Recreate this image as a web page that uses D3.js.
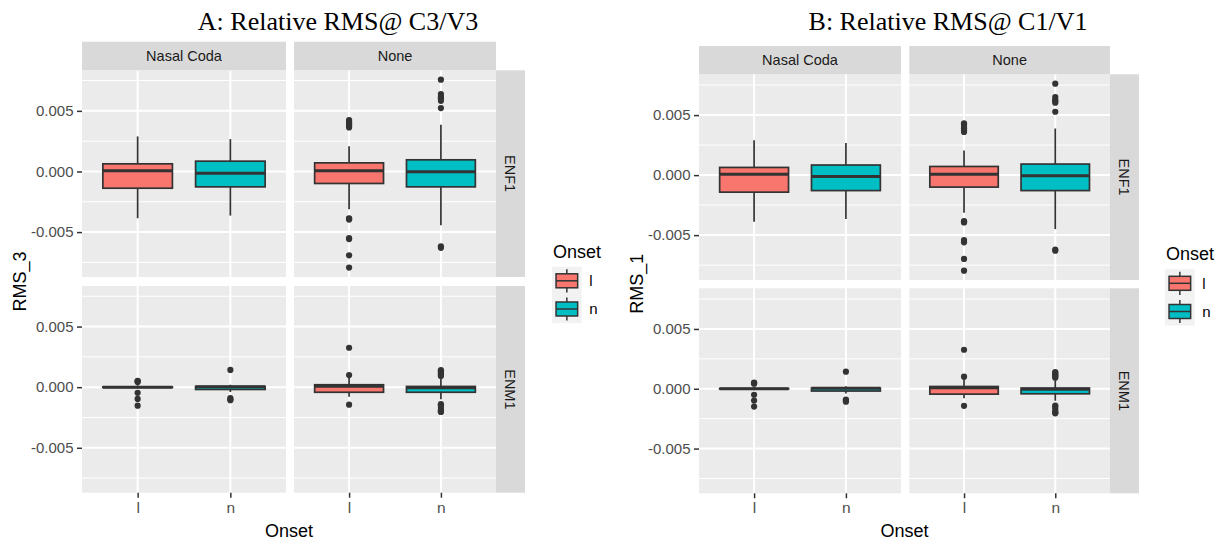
<!DOCTYPE html>
<html>
<head>
<meta charset="utf-8">
<script src="https://cdn.jsdelivr.net/npm/d3@7"></script>
<style>
  body { margin: 0; background: #ffffff; }
  svg { display: block; }
  text { font-family: "Liberation Sans", Arial, sans-serif; }
</style>
</head>
<body>
<svg id="chart" width="1219" height="540"></svg>
<script>
// Facet levels
const onsets = ["l", "n"];
const codas = ["Nasal Coda", "None"];
const speakers = ["ENF1", "ENM1"];

// Box-plot summaries, one entry per group, ordered speaker -> coda -> onset:
// ENF1/Nasal Coda/l, ENF1/Nasal Coda/n, ENF1/None/l, ENF1/None/n,
// ENM1/Nasal Coda/l, ENM1/Nasal Coda/n, ENM1/None/l, ENM1/None/n

// Relative RMS at C3/V3
const rms3Lower  = [-0.00386, -0.00364, -0.00312, -0.00444, -0.00012, -0.00040, -0.00080, -0.00100];
const rms3Q1     = [-0.00138, -0.00127, -0.00099, -0.00127, -0.00002, -0.00019, -0.00042, -0.00042];
const rms3Median = [ 0.00005, -0.00014,  0.00005, -0.00003,  0.00000,  0.00004,  0.00008, -0.00004];
const rms3Q3     = [ 0.00063,  0.00085,  0.00071,  0.00096,  0.00002,  0.00006,  0.00020,  0.00006];
const rms3Upper  = [ 0.00289,  0.00267,  0.00207,  0.00385,  0.00015,  0.00020,  0.00085,  0.00070];
const rms3Outliers = [
  [],
  [],
  [0.00424, 0.0041, 0.0040, 0.0039, 0.0038, 0.00363, -0.00386, -0.0039, -0.00397, -0.0055, -0.00558, -0.00692, -0.00793],
  [0.00757, 0.00639, 0.00615, 0.00603, 0.00583, 0.00523, -0.00617, -0.0063],
  [0.00052, 0.00047, 0.00042, -0.00047, -0.00097, -0.00153],
  [0.00142, -0.0009, -0.001, -0.00108],
  [0.00325, 0.0010, -0.00144],
  [0.0014, 0.0013, 0.0012, 0.0011, 0.0010, 0.00093, -0.0014, -0.0015, -0.0017, -0.0019, -0.0020, -0.00205]
];

// Relative RMS at C1/V1
const rms1Lower  = [-0.00389, -0.00366, -0.00313, -0.00450, -0.00012, -0.00040, -0.00080, -0.00100];
const rms1Q1     = [-0.00142, -0.00129, -0.00100, -0.00129, -0.00002, -0.00019, -0.00045, -0.00042];
const rms1Median = [ 0.00008, -0.00012,  0.00008, -0.00006,  0.00000,  0.00004,  0.00008, -0.00004];
const rms1Q3     = [ 0.00064,  0.00084,  0.00072,  0.00092,  0.00002,  0.00006,  0.00019,  0.00006];
const rms1Upper  = [ 0.00290,  0.00268,  0.00206,  0.00388,  0.00015,  0.00020,  0.00085,  0.00070];
const rms1Outliers = [
  [],
  [],
  [0.00432, 0.0042, 0.0040, 0.0039, 0.0037, 0.0036, -0.00384, -0.0039, -0.00395, -0.00541, -0.0056, -0.00698, -0.00796],
  [0.00762, 0.0065, 0.00628, 0.00616, 0.00603, 0.00528, -0.0062, -0.0063],
  [0.00052, 0.00047, 0.00042, -0.0005, -0.00099, -0.00149],
  [0.00143, -0.0009, -0.001, -0.00108],
  [0.00326, 0.00101, -0.00143],
  [0.0014, 0.0013, 0.0012, 0.0011, 0.0010, 0.00093, -0.0014, -0.0015, -0.0017, -0.0019, -0.0020, -0.00205]
];

const majorTicks = [-0.005, 0, 0.005];
const minorTicks = [-0.0075, -0.0025, 0.0025, 0.0075];

const fillColor = d3.scaleOrdinal().domain(onsets).range(["#F8766D", "#00BFC4"]);
const ink = "#333333";

const svg = d3.select("#chart");

function drawChart(L, D) {
  const g = svg.append("g");

  // shared y domain with 5% expansion, as the facets use fixed scales
  const all = [].concat(D.lower, D.upper, ...D.outliers);
  const [mn, mx] = d3.extent(all);
  const pad = (mx - mn) * 0.05;
  const yDomain = [mn - pad, mx + pad];

  // title
  g.append("text")
    .attr("x", L.titleX).attr("y", 30)
    .attr("text-anchor", "middle")
    .style("font-family", "'Liberation Serif', 'Times New Roman', serif")
    .style("font-size", "26px")
    .attr("fill", "#000")
    .text(L.title);

  speakers.forEach((sp, r) => {
    const [rowTop, rowBot] = L.rows[r];
    const y = d3.scaleLinear().domain(yDomain).range([rowBot, rowTop]);

    codas.forEach((cd, c) => {
      const [colL, colR] = L.cols[c];
      const x = d3.scalePoint().domain(onsets).range([colL, colR]).padding(0.6);
      const boxW = x.step() * 0.75;
      const p = g.append("g");

      p.append("rect")
        .attr("x", colL).attr("y", rowTop)
        .attr("width", colR - colL).attr("height", rowBot - rowTop)
        .attr("fill", "#EBEBEB");

      p.selectAll(".minor").data(minorTicks.filter(v => v > yDomain[0] && v < yDomain[1]))
        .join("line")
        .attr("x1", colL).attr("x2", colR)
        .attr("y1", d => y(d)).attr("y2", d => y(d))
        .attr("stroke", "#fff").attr("stroke-width", 1);

      p.selectAll(".major").data(majorTicks)
        .join("line")
        .attr("x1", colL).attr("x2", colR)
        .attr("y1", d => y(d)).attr("y2", d => y(d))
        .attr("stroke", "#fff").attr("stroke-width", 2);

      p.selectAll(".vmajor").data(onsets)
        .join("line")
        .attr("x1", d => x(d)).attr("x2", d => x(d))
        .attr("y1", rowTop).attr("y2", rowBot)
        .attr("stroke", "#fff").attr("stroke-width", 2);

      onsets.forEach((on, o) => {
        const i = r * 4 + c * 2 + o;
        const cx = x(on);
        const b = p.append("g");
        // whiskers
        b.append("line")
          .attr("x1", cx).attr("x2", cx)
          .attr("y1", y(D.upper[i])).attr("y2", y(D.q3[i]))
          .attr("stroke", ink).attr("stroke-width", 1.7);
        b.append("line")
          .attr("x1", cx).attr("x2", cx)
          .attr("y1", y(D.q1[i])).attr("y2", y(D.lower[i]))
          .attr("stroke", ink).attr("stroke-width", 1.7);
        // box
        b.append("rect")
          .attr("x", cx - boxW / 2).attr("width", boxW)
          .attr("y", y(D.q3[i])).attr("height", Math.max(0.01, y(D.q1[i]) - y(D.q3[i])))
          .attr("fill", fillColor(on))
          .attr("stroke", ink).attr("stroke-width", 1.7);
        // median
        b.append("line")
          .attr("x1", cx - boxW / 2).attr("x2", cx + boxW / 2)
          .attr("y1", y(D.median[i])).attr("y2", y(D.median[i]))
          .attr("stroke", ink).attr("stroke-width", 3);
        // outliers
        b.selectAll("circle").data(D.outliers[i])
          .join("circle")
          .attr("cx", cx).attr("cy", d => y(d))
          .attr("r", 3.1)
          .attr("fill", ink);
      });

      // top strips
      if (r === 0) {
        g.append("rect")
          .attr("x", colL).attr("y", L.stripTop[0])
          .attr("width", colR - colL).attr("height", L.stripTop[1] - L.stripTop[0])
          .attr("fill", "#D9D9D9");
        g.append("text")
          .attr("x", (colL + colR) / 2).attr("y", (L.stripTop[0] + L.stripTop[1]) / 2)
          .attr("dy", "0.35em")
          .attr("text-anchor", "middle")
          .style("font-size", "14.5px")
          .attr("fill", "#1A1A1A")
          .text(cd);
      }

      // left axis
      if (c === 0) {
        const ax = g.append("g")
          .attr("transform", `translate(${colL},0)`)
          .call(d3.axisLeft(y).tickValues(majorTicks).tickFormat(d => d.toFixed(3)).tickSize(5).tickPadding(3.5));
        ax.select(".domain").remove();
        ax.selectAll("line").attr("stroke", ink).attr("stroke-width", 1.5);
        ax.selectAll("text").attr("fill", "#4D4D4D").style("font-size", "15px");
      }

      // bottom axis
      if (r === speakers.length - 1) {
        const ax = g.append("g")
          .attr("transform", `translate(0,${rowBot})`)
          .call(d3.axisBottom(x).tickSize(5).tickPadding(4));
        ax.select(".domain").remove();
        ax.selectAll("line").attr("stroke", ink).attr("stroke-width", 1.5);
        ax.selectAll("text").attr("fill", "#4D4D4D").style("font-size", "15.5px");
      }
    });

    // right strips
    g.append("rect")
      .attr("x", L.stripRight[0]).attr("y", rowTop)
      .attr("width", L.stripRight[1] - L.stripRight[0]).attr("height", rowBot - rowTop)
      .attr("fill", "#D9D9D9");
    const sx = (L.stripRight[0] + L.stripRight[1]) / 2;
    const sy = (rowTop + rowBot) / 2;
    g.append("text")
      .attr("transform", `translate(${sx},${sy}) rotate(90)`)
      .attr("dy", "0.35em")
      .attr("text-anchor", "middle")
      .style("font-size", "14.5px")
      .attr("fill", "#1A1A1A")
      .text(sp);
  });

  // axis titles
  const midX = (L.cols[0][0] + L.cols[1][1]) / 2;
  g.append("text")
    .attr("x", midX).attr("y", 537)
    .attr("text-anchor", "middle")
    .style("font-size", "18px")
    .attr("fill", "#000")
    .text("Onset");

  const midY = (L.rows[0][0] + L.rows[1][1]) / 2;
  g.append("text")
    .attr("transform", `translate(${L.yTitleX},${midY}) rotate(-90)`)
    .attr("text-anchor", "middle")
    .style("font-size", "18px")
    .attr("fill", "#000")
    .text(L.yTitle);

  // legend
  const lg = g.append("g").attr("transform", `translate(${L.legend[0]},${L.legend[1]})`);
  lg.append("text")
    .attr("x", 1).attr("y", -9)
    .style("font-size", "18px")
    .attr("fill", "#000")
    .text("Onset");
  const keyH = 28.2, keyW = 29.7;
  onsets.forEach((on, k) => {
    const ky = k * keyH;
    const cx = keyW / 2, cy = ky + keyH / 2;
    lg.append("rect")
      .attr("x", 0).attr("y", ky).attr("width", keyW).attr("height", keyH)
      .attr("fill", "#F2F2F2");
    lg.append("line")
      .attr("x1", cx).attr("x2", cx).attr("y1", ky + 2.5).attr("y2", ky + keyH - 2.5)
      .attr("stroke", ink).attr("stroke-width", 1.5);
    lg.append("rect")
      .attr("x", cx - 10.8).attr("y", cy - 7).attr("width", 21.6).attr("height", 14)
      .attr("fill", fillColor(on)).attr("stroke", ink).attr("stroke-width", 1.5);
    lg.append("line")
      .attr("x1", cx - 10.8).attr("x2", cx + 10.8).attr("y1", cy).attr("y2", cy)
      .attr("stroke", ink).attr("stroke-width", 1.5);
    lg.append("text")
      .attr("x", keyW + 7.5).attr("y", cy).attr("dy", "0.35em")
      .style("font-size", "15px")
      .attr("fill", "#000")
      .text(on);
  });
}

drawChart(
  { title: "A: Relative RMS@ C3/V3", titleX: 338, yTitle: "RMS_3", yTitleX: 25.5,
    cols: [[82, 286], [294, 496]], rows: [[70.3, 277], [286, 492.7]],
    stripTop: [41.7, 70.3], stripRight: [496, 525], legend: [552, 266.7] },
  { lower: rms3Lower, q1: rms3Q1, median: rms3Median, q3: rms3Q3, upper: rms3Upper, outliers: rms3Outliers }
);

drawChart(
  { title: "B: Relative RMS@ C1/V1", titleX: 948, yTitle: "RMS_1", yTitleX: 642.5,
    cols: [[699, 901], [909.3, 1110]], rows: [[74.3, 280], [288.3, 493.3]],
    stripTop: [46, 74.3], stripRight: [1110, 1139], legend: [1165, 269.2] },
  { lower: rms1Lower, q1: rms1Q1, median: rms1Median, q3: rms1Q3, upper: rms1Upper, outliers: rms1Outliers }
);
</script>
</body>
</html>
